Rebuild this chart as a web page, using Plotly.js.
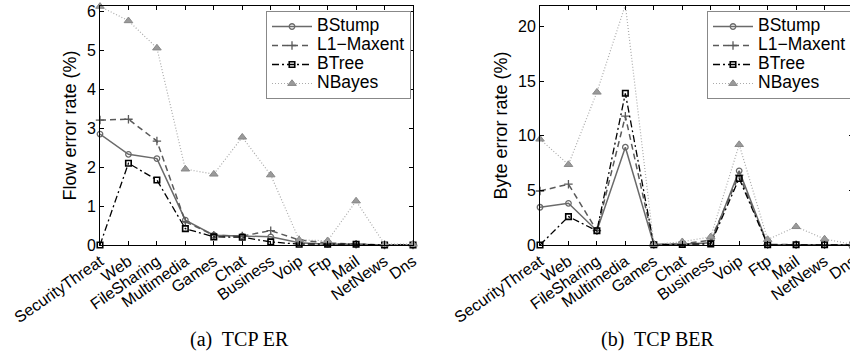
<!DOCTYPE html>
<html>
<head>
<meta charset="utf-8">
<script src="https://cdn.plot.ly/plotly-3.0.1.min.js"></script>
<style>
html,body{margin:0;padding:0;overflow:hidden;background:#fff;}
#chart{width:856px;height:358px;}
</style>
</head>
<body>
<div id="chart"></div>
<script>
const categories = ["SecurityThreat","Web","FileSharing","Multimedia","Games","Chat","Business","Voip","Ftp","Mail","NetNews","Dns"];
const seriesNames = ["BStump","L1\u2212Maxent","BTree","NBayes"];

// (a) TCP ER - Flow error rate (%)
const erBStump = [2.85,2.33,2.22,0.64,0.25,0.23,0.21,0.06,0.02,0.02,0.0,0.0];
const erL1Maxent = [3.21,3.23,2.67,0.60,0.25,0.23,0.37,0.13,0.05,0.02,0.0,0.0];
const erBTree = [0.0,2.10,1.67,0.42,0.21,0.20,0.08,0.02,0.02,0.02,0.0,0.0];
const erNBayes = [6.13,5.76,5.06,1.95,1.82,2.77,1.80,0.13,0.11,1.13,0.02,0.02];

// (b) TCP BER - Byte error rate (%)
const berBStump = [3.46,3.82,1.31,8.96,0.06,0.06,0.20,6.80,0.05,0.03,0.02,0.0];
const berL1Maxent = [4.95,5.57,1.31,11.8,0.05,0.10,0.45,6.40,0.05,0.02,0.02,0.0];
const berBTree = [0.0,2.60,1.30,13.9,0.02,0.05,0.10,6.10,0.02,0.02,0.02,0.0];
const berNBayes = [9.70,7.37,14.0,22.0,0.05,0.30,0.75,9.20,0.50,1.68,0.55,0.05];

const yTitles = ["Flow error rate (%)","Byte error rate (%)"];
const subTitles = ["(a)\u00a0 TCP ER","(b)\u00a0 TCP BER"];

const W = 856;
const SANS = '"Liberation Sans", Arial, Helvetica, sans-serif';
const SERIF = '"Liberation Serif", "Times New Roman", serif';
const styles = [
  {line:{color:'#6a6a6a',width:1.5,dash:'solid'}, marker:{symbol:'circle-open',size:5.5,color:'#6a6a6a',line:{width:1.3,color:'#6a6a6a'}}},
  {line:{color:'#5a5a5a',width:1.5,dash:'6px,4px'}, marker:{symbol:'cross-thin-open',size:6,color:'#5a5a5a',line:{width:1.3,color:'#5a5a5a'}}},
  {line:{color:'#000000',width:1.3,dash:'7px,3px,2px,3px'}, marker:{symbol:'square-open',size:5.5,color:'#000',line:{width:1.6,color:'#000'}}},
  {line:{color:'#aaaaaa',width:1.2,dash:'1px,2px'}, marker:{symbol:'triangle-up',size:7.5,color:'#9a9a9a',line:{width:1,color:'#888'}}}
];

const legendLabel = n => '<span style="font-size:17.5px">' + n + '</span>';

const leftData = [erBStump, erL1Maxent, erBTree, erNBayes];
const rightData = [berBStump, berL1Maxent, berBTree, berNBayes];
const traces = [];
leftData.forEach((ys,i)=>{
  traces.push({type:'scatter',mode:'lines+markers',x:categories,y:ys,name:legendLabel(seriesNames[i]),
    xaxis:'x',yaxis:'y',legend:'legend',line:styles[i].line,marker:styles[i].marker,cliponaxis:false});
});
rightData.forEach((ys,i)=>{
  traces.push({type:'scatter',mode:'lines+markers',x:categories,y:ys,name:legendLabel(seriesNames[i]),
    xaxis:'x2',yaxis:'y2',legend:'legend2',line:styles[i].line,marker:styles[i].marker,cliponaxis:false});
});

const xBase = {type:'category',range:[0,11],showgrid:false,zeroline:false,showline:true,linecolor:'#000',linewidth:1,
  mirror:'ticks',ticks:'inside',ticklen:4,tickcolor:'#000',tickangle:-35,tickfont:{family:SANS,size:16,color:'#000'}};
const yBase = {showgrid:false,zeroline:false,showline:true,linecolor:'#000',linewidth:1,mirror:'ticks',
  ticks:'inside',ticklen:4,tickcolor:'#000',tickfont:{family:SANS,size:16,color:'#000'}};

const legBase = {xanchor:'left',y:0.979,yanchor:'top',bgcolor:'#fff',bordercolor:'#888',borderwidth:1,
    font:{family:SANS,size:12,color:'#000'},tracegroupgap:0,itemwidth:40};

const layout = {
  width:W,height:358,margin:{l:0,r:0,t:6,b:113},
  paper_bgcolor:'#fff',plot_bgcolor:'#fff',font:{family:SANS,size:14,color:'#000'},
  xaxis:Object.assign({},xBase,{domain:[100/W,413/W],anchor:'y'}),
  yaxis:Object.assign({},yBase,{range:[0,6.14],dtick:1,anchor:'x',title:{text:yTitles[0],standoff:5,font:{family:SANS,size:18}}}),
  xaxis2:Object.assign({},xBase,{domain:[540/W,853/W],anchor:'y2'}),
  yaxis2:Object.assign({},yBase,{range:[0,21.9],dtick:5,anchor:'x2',title:{text:yTitles[1],standoff:5,font:{family:SANS,size:18}}}),
  legend:Object.assign({},legBase,{x:266/W}),
  legend2:Object.assign({},legBase,{x:707/W}),
  annotations:[
    {text:subTitles[0],xref:'paper',yref:'paper',x:240/W,y:-0.397,xanchor:'center',yanchor:'middle',showarrow:false,
     font:{family:SERIF,size:20,color:'#000'}},
    {text:subTitles[1],xref:'paper',yref:'paper',x:657/W,y:-0.397,xanchor:'center',yanchor:'middle',showarrow:false,
     font:{family:SERIF,size:20,color:'#000'}}
  ],
  showlegend:true
};

Plotly.newPlot('chart',traces,layout,{displayModeBar:false,staticPlot:true});
</script>
</body>
</html>
